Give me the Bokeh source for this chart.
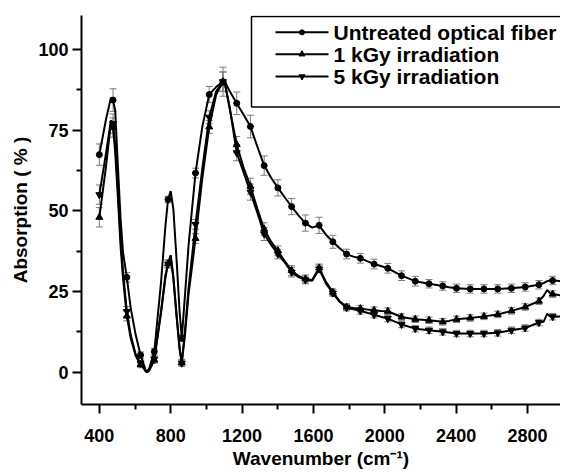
from bokeh.plotting import figure
from bokeh.models import ColumnDataSource, Whisker, TeeHead, FixedTicker, Range1d
from bokeh.core.properties import value
from bokeh.embed import file_html
from bokeh.resources import INLINE

# ---------------- data ----------------
wavenumber = [400, 438, 465, 477, 489, 502, 519, 533, 554, 576, 604, 631, 660, 668, 680, 708,
              746, 770, 785, 800, 815, 835, 850, 862, 880, 900, 939, 977, 1016, 1055, 1093,
              1105, 1131, 1170, 1208, 1247, 1285, 1324, 1362, 1401, 1439, 1478, 1516, 1555,
              1593, 1632, 1670, 1709, 1747, 1786, 1824, 1863, 1901, 1940, 1978, 2017, 2094,
              2171, 2248, 2325, 2360, 2402, 2479, 2556, 2633, 2710, 2787, 2864, 2890, 2910,
              2925, 2941, 2990]

untreated = [67.4, 78.5, 85.0, 84.3, 81.0, 66.0, 47.5, 37.0, 29.4, 19.8, 11.5, 5.3, 0.6, 0.3, 1.2, 6.4,
             28.0, 45.0, 53.5, 56.1, 50.5, 33.0, 18.7, 10.5, 23.8, 39.2, 61.7, 76.0, 86.0, 88.4, 90.0,
             89.8, 87.0, 83.3, 79.8, 76.1, 70.0, 64.0, 60.3, 57.1, 54.2, 51.3, 48.6, 46.2,
             44.8, 45.5, 42.6, 40.4, 38.4, 36.6, 35.8, 35.3, 34.4, 33.5, 32.9, 32.2, 29.9,
             28.2, 27.4, 26.7, 26.3, 26.0, 25.8, 25.8, 25.8, 26.0, 26.4, 27.1, 27.6, 28.2,
             28.4, 28.4, 28.2]

kgy1 = [48.0, 64.0, 77.5, 75.8, 68.0, 56.0, 39.0, 29.0, 17.4, 10.5, 5.0, 2.4, 0.3, 0.0, 0.6, 3.8,
        18.5, 29.0, 33.6, 36.3, 29.5, 16.5, 7.5, 3.0, 11.5, 24.0, 41.4, 60.0, 76.0, 86.0, 90.0,
        89.0, 81.5, 70.5, 63.5, 57.6, 50.8, 44.3, 40.5, 37.6, 34.4, 31.5, 29.8, 28.9,
        28.6, 32.3, 28.0, 24.8, 22.0, 20.2, 19.9, 19.7, 19.4, 19.2, 19.0, 18.9, 17.1,
        16.4, 16.1, 15.6, 15.9, 16.4, 16.8, 17.3, 17.9, 19.0, 20.2, 22.0, 23.6, 25.5,
        24.6, 24.2, 23.8]

kgy5 = [55.0, 68.0, 78.0, 77.0, 70.5, 58.5, 42.0, 31.0, 18.8, 11.5, 5.5, 2.7, 0.3, 0.0, 0.7, 4.0,
        19.0, 30.0, 33.5, 35.7, 29.0, 16.0, 7.0, 2.8, 13.0, 26.0, 45.8, 63.0, 79.0, 87.0, 90.0,
        89.2, 82.0, 68.0, 62.0, 55.8, 49.5, 42.8, 39.5, 36.6, 34.0, 31.0, 29.5, 28.6,
        28.3, 32.0, 27.5, 24.5, 21.8, 20.0, 19.5, 19.0, 18.4, 17.8, 17.2, 16.6, 14.8,
        13.5, 13.0, 12.5, 12.3, 12.0, 12.0, 12.0, 12.2, 13.0, 13.7, 15.4, 15.6, 18.1,
        17.3, 17.2, 17.3]

marker_wn = [400, 477, 554, 631, 708, 785, 862, 939, 1016, 1093, 1170, 1247, 1324, 1401, 1478,
             1555, 1632, 1709, 1786, 1863, 1940, 2017, 2094, 2171, 2248, 2325, 2402, 2479,
             2556, 2633, 2710, 2787, 2864, 2941]

untreated_err = [3.3, 3.5, 1.5, 1.0, 1.0, 1.0, 1.0, 1.5, 2.5, 4.5, 3.5, 3.5, 3.0, 2.5, 2.5, 2.5, 2.5,
                 2.0, 1.5, 1.5, 1.5, 1.5, 1.5, 1.5, 1.3, 1.3, 1.3, 1.3, 1.3, 1.3, 1.3, 1.3, 1.3, 1.3]
kgy1_err = [3.0, 3.0, 1.5, 1.0, 1.0, 1.2, 1.0, 1.5, 2.0, 3.0, 2.5, 2.5, 2.0, 1.5, 1.5, 1.2, 1.2,
            1.0, 1.0, 1.0, 1.0, 1.0, 1.0, 1.0, 1.0, 1.0, 1.0, 1.0, 1.0, 1.0, 1.0, 1.0, 1.0, 1.0]
kgy5_err = [3.0, 3.0, 1.5, 1.0, 1.0, 1.2, 1.0, 1.5, 2.0, 3.0, 2.5, 2.5, 2.0, 1.5, 1.5, 1.2, 1.2,
            1.0, 1.0, 1.0, 1.0, 1.0, 1.0, 1.0, 1.0, 1.0, 1.0, 1.0, 1.0, 1.0, 1.0, 1.0, 1.0, 1.0]

series_names = ["Untreated optical fiber", "1 kGy irradiation", "5 kGy irradiation"]
x_ticks = [400, 800, 1200, 1600, 2000, 2400, 2800]
x_minor = [600, 1000, 1400, 1800, 2200, 2600]
y_ticks = [0, 25, 50, 75, 100]
y_minor = [12.5, 37.5, 62.5, 87.5]

# ---------------- layout ----------------
X0, X1 = 300, 2985
Y0, Y1 = -10, 110.5
W, H = 560, 471
BL, BT, BB, BR = 81, 15, 64, 0
FW = W - BL - BR
FH = H - BT - BB

FONT = "Liberation Sans"

p = figure(width=W, height=H, x_range=Range1d(X0, X1), y_range=Range1d(Y0, Y1),
           output_backend="svg", toolbar_location=None,
           min_border_left=BL, min_border_right=BR, min_border_top=BT, min_border_bottom=BB)
p.outline_line_color = None
p.grid.visible = False
p.background_fill_color = "white"
p.border_fill_color = "white"

for ax in (p.xaxis[0], p.yaxis[0]):
    ax.axis_line_width = 2
    ax.axis_line_color = "black"
    ax.major_tick_line_width = 2
    ax.minor_tick_line_width = 2
    ax.major_tick_in = 0
    ax.major_tick_out = 9
    ax.minor_tick_in = 0
    ax.minor_tick_out = 5
    ax.major_label_text_font = FONT
    ax.major_label_text_font_style = "bold"
    ax.major_label_text_font_size = "18px"
    ax.major_label_text_color = "black"
    ax.axis_label_text_font = FONT
    ax.axis_label_text_font_style = "bold"
    ax.axis_label_text_font_size = "19px"
    ax.axis_label_text_color = "black"

p.xaxis.ticker = FixedTicker(ticks=x_ticks, minor_ticks=x_minor)
p.yaxis.ticker = FixedTicker(ticks=y_ticks, minor_ticks=y_minor)
p.xaxis.axis_label = "Wavenumber (cm\u207b\u00b9)"
p.yaxis.axis_label = "Absorption ( % )"
p.xaxis.major_label_standoff = 15
p.yaxis.major_label_standoff = 4
p.xaxis.axis_label_standoff = 3
p.yaxis.axis_label_standoff = 4

# ---------------- series ----------------
idx = [wavenumber.index(x) for x in marker_wn]
series = [
    (untreated, untreated_err, "circle", 6),
    (kgy1, kgy1_err, "triangle", 7),
    (kgy5, kgy5_err, "inverted_triangle", 7),
]

for ys, errs, mk, sz in series:
    my = [ys[i] for i in idx]
    esrc = ColumnDataSource(dict(x=marker_wn, upper=[a + e for a, e in zip(my, errs)],
                                 lower=[a - e for a, e in zip(my, errs)]))
    wsk = Whisker(source=esrc, base="x", upper="upper", lower="lower",
                  line_color="#7a7a7a", line_width=1)
    wsk.upper_head = TeeHead(size=7, line_color="#7a7a7a", line_width=1)
    wsk.lower_head = TeeHead(size=7, line_color="#7a7a7a", line_width=1)
    p.add_layout(wsk)

for ys, errs, mk, sz in series:
    p.line(wavenumber, ys, line_color="black", line_width=2)
    my = [ys[i] for i in idx]
    p.scatter(marker_wn, my, marker=mk, size=sz, fill_color="black", line_color="black")

# ---------------- legend (drawn by hand) ----------------
def dx(px):
    return X0 + (px - BL) * (X1 - X0) / FW

def dy(py):
    return Y1 - (py - BT) * (Y1 - Y0) / FH

p.line([dx(800), dx(251), dx(251), dx(800)], [dy(16), dy(16), dy(107.3), dy(107.3)],
       line_color="black", line_width=1.5)
rows = [32, 54, 76.5]
for (ys, errs, mk, sz), name, ry in zip(series, series_names, rows):
    p.line([dx(275), dx(328)], [dy(ry), dy(ry)], line_color="black", line_width=2)
    p.scatter([dx(301.5)], [dy(ry)], marker=mk, size=sz - 1, fill_color="black", line_color="black")
    p.text(x=[dx(333)], y=[dy(ry)], text=[name], text_font=value(FONT), text_font_style="bold",
           text_font_size="21px", text_baseline="middle", text_align="left", text_color="black")

open("out.html", "w").write(file_html(p, INLINE))
